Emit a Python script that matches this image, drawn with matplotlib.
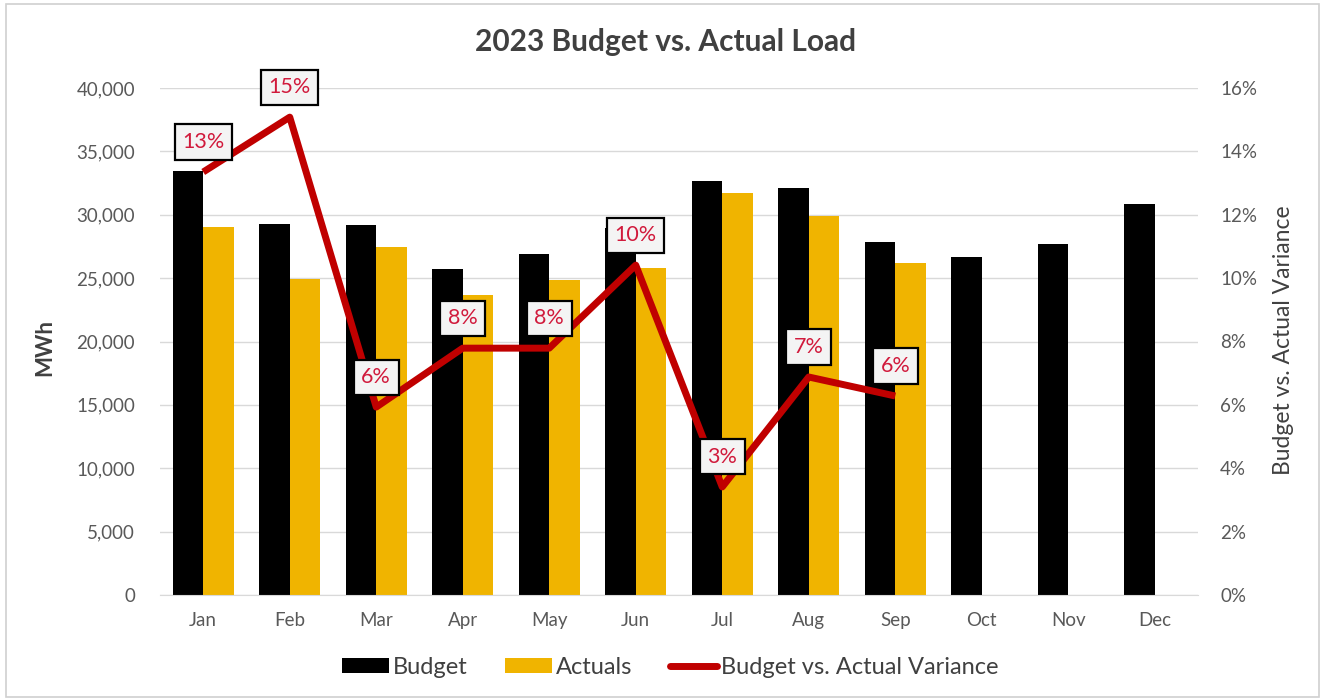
import matplotlib
matplotlib.use("Agg")
import matplotlib.pyplot as plt
import numpy as np
from matplotlib.patches import Rectangle, Patch
from matplotlib.lines import Line2D
from matplotlib.ticker import FuncFormatter, MultipleLocator

plt.rcParams['font.family'] = ['Lato', 'DejaVu Sans']

months = ["Jan", "Feb", "Mar", "Apr", "May", "Jun",
          "Jul", "Aug", "Sep", "Oct", "Nov", "Dec"]
budget = [33450, 29270, 29190, 25720, 26900, 28950,
          32660, 32110, 27850, 26670, 27690, 30850]
actuals = [29030, 24930, 27460, 23670, 24850, 25800,
           31720, 29900, 26190]
variance = [0.1335, 0.1508, 0.0593, 0.0779, 0.0779, 0.1041,
            0.0341, 0.0688, 0.0628]

BLACK = "#000000"
GOLD = "#F0B400"
RED = "#C00000"
LABEL_RED = "#D11A3C"
GRID = "#D9D9D9"
TEXT = "#595959"

W, H = 1325, 700
fig = plt.figure(figsize=(W / 100, H / 100), dpi=100)
fig.patch.set_facecolor("white")

# outer chart frame
fig.add_artist(Rectangle((6 / W, 3 / H), 1 - 12 / W, 1 - 7 / H,
                         transform=fig.transFigure, fill=False,
                         edgecolor="#D0D0D0", linewidth=1.2))

ax = fig.add_axes([160 / W, 1 - 595 / H, (1198 - 160) / W, (595 - 88) / H])
ax2 = ax.twinx()

x = np.arange(len(months))
bw = 0.35
ax.bar(x - bw / 2, budget, width=bw, color=BLACK, zorder=2)
ax.bar(np.arange(len(actuals)) + bw / 2, actuals, width=bw, color=GOLD, zorder=2)

ax.set_xlim(-0.5, len(months) - 0.5)
ax.set_ylim(0, 40000)
ax.yaxis.set_major_locator(MultipleLocator(5000))
ax.yaxis.set_major_formatter(FuncFormatter(lambda v, p: f"{int(v):,}"))
ax.grid(axis="y", color=GRID, linewidth=1, zorder=0)
ax.set_axisbelow(True)
ax.set_xticks(x)
ax.set_xticklabels(months)

for s in ["top", "left", "right"]:
    ax.spines[s].set_visible(False)
    ax2.spines[s].set_visible(False)
ax.spines["bottom"].set_color(GRID)
ax2.spines["bottom"].set_visible(False)

ax.tick_params(axis="x", length=0, pad=12, labelsize=13.5, labelcolor=TEXT)
ax.tick_params(axis="y", length=0, pad=18, labelsize=13.5, labelcolor=TEXT)

# variance line on secondary axis
vx = np.arange(len(variance))
ax2.plot(vx, variance, color=RED, linewidth=5, solid_joinstyle="round",
         solid_capstyle="butt", zorder=3)
ax2.set_ylim(0, 0.16)
ax2.yaxis.set_major_locator(MultipleLocator(0.02))
ax2.yaxis.set_major_formatter(FuncFormatter(lambda v, p: f"{v * 100:.0f}%"))
ax2.tick_params(axis="y", length=0, pad=16, labelsize=13.5, labelcolor=TEXT)

for xi, v in zip(vx, variance):
    ax2.annotate(f"{v * 100:.0f}%", (xi, v), xytext=(0, 30),
                 textcoords="offset pixels", ha="center", va="center",
                 fontsize=15.5, color=LABEL_RED, zorder=5,
                 bbox=dict(boxstyle="square,pad=0.35", facecolor="#F4F4F4",
                           edgecolor="black", linewidth=1.6))

fig.text(666 / W, 1 - 42 / H, "2023 Budget vs. Actual Load", ha="center",
         va="center", fontsize=21.5, fontweight="bold", color="#404040")
fig.text(45 / W, 1 - 347 / H, "MWh", ha="center", va="center", rotation=90,
         fontsize=16, fontweight="bold", color="#404040")
fig.text(1283 / W, 1 - 340 / H, "Budget vs. Actual Variance", ha="center",
         va="center", rotation=90, fontsize=16.5, color="#404040")

handles = [Patch(facecolor=BLACK), Patch(facecolor=GOLD),
           Line2D([0], [0], color=RED, linewidth=5, solid_capstyle="round")]
labels = ["Budget", "Actuals", "Budget vs. Actual Variance"]
fig.legend(handles, labels, loc="center", bbox_to_anchor=(670 / W, 1 - 667 / H),
           ncol=3, frameon=False, fontsize=17, handlelength=2.0,
           handleheight=0.6, handletextpad=0.15, columnspacing=1.6,
           labelcolor="#404040")

fig.savefig("out.png", dpi=100)
